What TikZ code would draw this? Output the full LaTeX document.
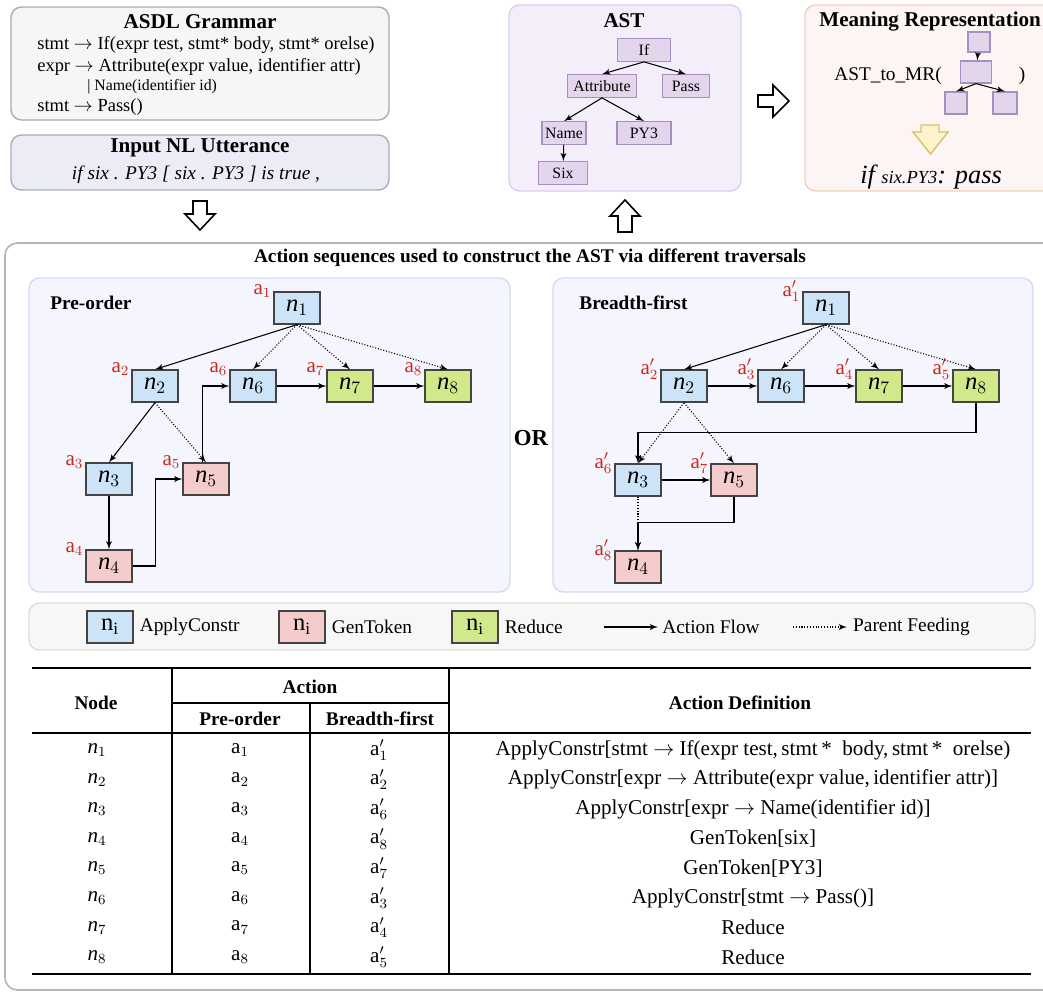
\documentclass[tikz,border=0pt]{standalone}
\usepackage{fontspec}
\setmainfont{Liberation Serif}
\usepackage{tikz}
\usetikzlibrary{arrows}
\usetikzlibrary{positioning}
\definecolor{boxline}{HTML}{A9ACB8}
\definecolor{grammarfill}{HTML}{F6F6F8}
\definecolor{nlfill}{HTML}{ECECF6}
\definecolor{astfill}{HTML}{F4EEFB}
\definecolor{astline}{HTML}{DCCDF2}
\definecolor{astnodefill}{HTML}{E3D5EB}
\definecolor{astnodeline}{HTML}{A78FBF}
\definecolor{mrfill}{HTML}{FCF5F3}
\definecolor{mrline}{HTML}{F3D2BD}
\definecolor{panelfill}{HTML}{F4F5FD}
\definecolor{panelline}{HTML}{D3DCF4}
\definecolor{legfill}{HTML}{F7F7F7}
\definecolor{legline}{HTML}{DDDDDD}
\definecolor{outerline}{HTML}{B5B5B5}
\definecolor{applyblue}{HTML}{CCE3F8}
\definecolor{genred}{HTML}{F5CCCC}
\definecolor{redgreen}{HTML}{D1E88B}
\definecolor{ndline}{HTML}{444444}
\definecolor{ared}{HTML}{C8291C}
\definecolor{yelfill}{HTML}{FDF3CD}
\definecolor{yelline}{HTML}{D9C06A}
\newcommand{\fsz}[1]{\fontsize{#1}{#1}\selectfont}
\newcommand{\rar}{$\rightarrow$}
\tikzstyle{panel} = [draw=panelline, fill=panelfill, line width=0.8pt, rounded corners=6pt]
\tikzstyle{nd} = [rectangle, draw=ndline, line width=0.7pt, minimum width=0.92cm, minimum height=0.64cm, inner sep=0pt, font=\fsz{14}]
\tikzstyle{apply} = [nd, fill=applyblue]
\tikzstyle{gen} = [nd, fill=genred]
\tikzstyle{reduce} = [nd, fill=redgreen]
\tikzstyle{lbl} = [text=ared, anchor=east, inner sep=1pt, font=\fsz{12}]
\tikzstyle{line} = [draw, -latex', line width=0.6pt]
\tikzstyle{feed} = [line, densely dotted]
\tikzstyle{astnode} = [rectangle, draw=astnodeline, fill=astnodefill, line width=0.7pt, minimum height=0.45cm, inner sep=0pt, font=\fsz{9}]
\tikzstyle{title} = [font=\bfseries\fsz{12}]
\tikzstyle{hollow} = [draw, line width=0.9pt, fill=white, line join=miter]
\tikzstyle{legtext} = [font=\fsz{11}]
\tikzstyle{cell} = [font=\fsz{12}]
\tikzstyle{head} = [font=\bfseries\fsz{11}]

\begin{document}
\begin{tikzpicture}[x=0.02cm, y=-0.02cm]
  \useasboundingbox (0,0) rectangle (1043,992);
  \fill[white] (0,0) rectangle (1043,992);
  % Top boxes
  \draw[draw=boxline, fill=grammarfill, line width=0.8pt, rounded corners=6pt] (11,7) rectangle (389,120);
  \node[title] (gtitle) at (200,22) {ASDL Grammar};
  \node[anchor=west, inner sep=0pt, font=\fsz{10.5}] (g1) at (37,45) {stmt \rar\ If(expr test, stmt* body, stmt* orelse)};
  \node[anchor=west, inner sep=0pt, font=\fsz{10.5}] (g2) at (37,67) {expr \rar\ Attribute(expr value, identifier attr)};
  \node[anchor=west, inner sep=0pt, font=\fsz{9}] (g3) at (87,87) {| Name(identifier id)};
  \node[anchor=west, inner sep=0pt, font=\fsz{10.5}] (g4) at (37,107) {stmt \rar\ Pass()};
  \draw[draw=boxline, fill=nlfill, line width=0.8pt, rounded corners=6pt] (11,135) rectangle (389,190);
  \node[title] (nltitle) at (200,148) {Input NL Utterance};
  \node[font=\itshape\fsz{11}] (nl) at (196,175) {if six . PY3 [ six . PY3 ] is true ,};
  % AST box
  \draw[draw=astline, fill=astfill, line width=0.8pt, rounded corners=6pt] (509,5) rectangle (741,191);
  \node[title] (asttitle) at (624,21) {AST};
  \node[astnode, minimum width=1.06cm] (aIf) at (644,50) {If};
  \node[astnode, minimum width=1.38cm] (aAttr) at (602,86) {Attribute};
  \node[astnode, minimum width=0.94cm] (aPass) at (686,86) {Pass};
  \node[astnode, minimum width=0.88cm] (aName) at (564,133) {Name};
  \node[astnode, minimum width=1.08cm] (aPY) at (644,133) {PY3};
  \node[astnode, minimum width=0.98cm] (aSix) at (563,173) {Six};
  \path[line] (aIf.south) -- (aAttr.north);
  \path[line] (aIf.south) -- (aPass.north);
  \path[line] (aAttr.south) -- (aName.north);
  \path[line] (aAttr.south) -- (aPY.north);
  \path[line] (aName) -- (aSix);
  % Meaning representation box
  \draw[draw=mrline, fill=mrfill, line width=0.8pt, rounded corners=6pt] (805,5) rectangle (1070,191);
  \node[title, anchor=west, inner sep=0pt] (mrtitle) at (819,22) {Meaning Representation};
  \node[anchor=west, inner sep=0pt, font=\fsz{11}] (mrcall) at (834,76) {AST\_to\_MR(};
  \node[inner sep=0pt, font=\fsz{11}] (mrclose) at (1022,76) {)};
  \node[astnode, minimum width=0.44cm, minimum height=0.4cm] (mA) at (979,42) {};
  \node[astnode, minimum width=0.62cm, minimum height=0.44cm] (mB) at (976,72) {};
  \node[astnode, minimum width=0.44cm, minimum height=0.44cm] (mC) at (956,103) {};
  \node[astnode, minimum width=0.48cm, minimum height=0.44cm] (mD) at (1005,103) {};
  \path[line] (mA) -- (mB);
  \path[line] (mB.south) -- (mC.north);
  \path[line] (mB.south) -- (mD.north);
  \draw[draw=yelline, fill=yelfill, line width=0.8pt] (921,125) -- (939,125) -- (939,132) -- (948,132) -- (930.5,154) -- (913,132) -- (921,132) -- cycle;
  \node[font=\itshape] (mrout) at (931,177) {\fsz{15}if \fsz{10.5}six.PY3\fsz{15}: pass};
  % Hollow arrows
  \draw[hollow] (193,201) -- (207,201) -- (207,214) -- (215,214) -- (200,230) -- (185,214) -- (193,214) -- cycle;
  \draw[hollow] (625,200) -- (640,216) -- (632,216) -- (632,232) -- (618,232) -- (618,216) -- (610,216) -- cycle;
  \draw[hollow] (758,95) -- (773,95) -- (773,85) -- (789,101) -- (773,117) -- (773,107) -- (758,107) -- cycle;
  % Outer box and panels
  \draw[draw=outerline, fill=white, line width=0.9pt, rounded corners=7pt] (5,243) rectangle (1080,990);
  \node[font=\bfseries\fsz{11}] (maintitle) at (530,258) {Action sequences used to construct the AST via different traversals};
  \draw[panel] (29,278) rectangle (510,592);
  \draw[panel] (553,278) rectangle (1033,592);
  \node[font=\bfseries\fsz{11}, anchor=west, inner sep=0pt] (pretitle) at (50,303) {Pre-order};
  \node[font=\bfseries\fsz{11}, anchor=west, inner sep=0pt] (bfstitle) at (579,303) {Breadth-first};
  \node[font=\bfseries\fsz{13}] (or) at (531,438) {OR};
  % Place nodes (pre-order)
  \node[apply, label={[lbl]north west:$\mathrm{a}_1$}] (p1) at (297,308) {$\mathit{n}_1$};
  \node[apply, label={[lbl]north west:$\mathrm{a}_2$}] (p2) at (155,386) {$\mathit{n}_2$};
  \node[apply, label={[lbl]north west:$\mathrm{a}_6$}] (p6) at (253,386) {$\mathit{n}_6$};
  \node[reduce, label={[lbl]north west:$\mathrm{a}_7$}] (p7) at (350,386) {$\mathit{n}_7$};
  \node[reduce, label={[lbl]north west:$\mathrm{a}_8$}] (p8) at (448,386) {$\mathit{n}_8$};
  \node[apply, label={[lbl]north west:$\mathrm{a}_3$}] (p3) at (109,479) {$\mathit{n}_3$};
  \node[gen, label={[lbl]north west:$\mathrm{a}_5$}] (p5) at (206,479) {$\mathit{n}_5$};
  \node[gen, label={[lbl]north west:$\mathrm{a}_4$}] (p4) at (109,566) {$\mathit{n}_4$};
  % Draw edges (pre-order)
  \path[line] (p1.south) -- (p2.north);
  \path[feed] (p1.south) -- (p6.north);
  \path[feed] (p1.south) -- (p7.north);
  \path[feed] (p1.south) -- (p8.north);
  \path[line] (p2.south) -- (p3.north);
  \path[feed] (p2.south) -- (p5.north);
  \path[line] (p3) -- (p4);
  \path[line] (p4.east) -- ++(23,0) |- (p5.west);
  \path[line] ([xshift=-2pt]p5.north) |- (p6.west);
  \path[line] (p6) -- (p7);
  \path[line] (p7) -- (p8);
  % Place nodes (breadth-first)
  \node[apply, label={[lbl]north west:$\mathrm{a}'_1$}] (b1) at (826,308) {$\mathit{n}_1$};
  \node[apply, label={[lbl]north west:$\mathrm{a}'_2$}] (b2) at (684,386) {$\mathit{n}_2$};
  \node[apply, label={[lbl]north west:$\mathrm{a}'_3$}] (b6) at (781,386) {$\mathit{n}_6$};
  \node[reduce, label={[lbl]north west:$\mathrm{a}'_4$}] (b7) at (879,386) {$\mathit{n}_7$};
  \node[reduce, label={[lbl]north west:$\mathrm{a}'_5$}] (b8) at (976,386) {$\mathit{n}_8$};
  \node[apply, label={[lbl]north west:$\mathrm{a}'_6$}] (b3) at (638,480) {$\mathit{n}_3$};
  \node[gen, label={[lbl]north west:$\mathrm{a}'_7$}] (b5) at (734,480) {$\mathit{n}_5$};
  \node[gen, label={[lbl]north west:$\mathrm{a}'_8$}] (b4) at (638,567) {$\mathit{n}_4$};
  % Draw edges (breadth-first)
  \path[line] (b1.south) -- (b2.north);
  \path[feed] (b1.south) -- (b6.north);
  \path[feed] (b1.south) -- (b7.north);
  \path[feed] (b1.south) -- (b8.north);
  \path[line] (b2) -- (b6);
  \path[line] (b6) -- (b7);
  \path[line] (b7) -- (b8);
  \path[line] (b8.south) -- ++(0,30) -| (b3.north);
  \path[feed] (b2.south) -- (b3.north);
  \path[feed] (b2.south) -- (b5.north);
  \path[line] (b3) -- (b5);
  \path[feed] (b3) -- (b4);
  \path[line] (b5.south) -- ++(0,26) -| (b4.north);
  % Legend
  \draw[draw=legline, fill=legfill, line width=0.8pt, rounded corners=6pt] (29,603) rectangle (1035,650);
  \node[apply, font=\fsz{14}] (lgA) at (110,627) {$\mathrm{n}_\mathrm{i}$};
  \node[legtext, right=0pt of lgA] (lgAt) {ApplyConstr};
  \node[gen, font=\fsz{14}] (lgG) at (302,627) {$\mathrm{n}_\mathrm{i}$};
  \node[legtext, right=0pt of lgG] (lgGt) {GenToken};
  \node[reduce, font=\fsz{14}] (lgR) at (475,627) {$\mathrm{n}_\mathrm{i}$};
  \node[legtext, right=0pt of lgR] (lgRt) {Reduce};
  \coordinate (lf1) at (604,627);
  \coordinate (lf2) at (658,627);
  \path[line] (lf1) -- (lf2);
  \node[legtext, right=-1pt of lf2] (lgFt) {Action Flow};
  \coordinate (lp1) at (793,627);
  \coordinate (lp2) at (847,627);
  \path[feed] (lp1) -- (lp2);
  \node[legtext, right=0pt of lp2] (lgPt) {Parent Feeding};
  % Table
  \draw[line width=1.2pt] (32,668) -- (1031,668);
  \draw[line width=1.2pt] (32,733) -- (1031,733);
  \draw[line width=1.2pt] (32,974) -- (1031,974);
  \draw[line width=0.7pt] (172,668) -- (172,974);
  \draw[line width=0.7pt] (449,668) -- (449,974);
  \draw[line width=0.7pt] (310,703) -- (310,974);
  \draw[line width=0.7pt] (172,703) -- (449,703);
  \node[head] (hNode) at (96,703) {Node};
  \node[head] (hAct) at (310,687) {Action};
  \node[head] (hPre) at (240,719) {Pre-order};
  \node[head] (hBfs) at (380,719) {Breadth-first};
  \node[head] (hDef) at (740,703) {Action Definition};
  \foreach \nid/\bfs/\adef [count=\k] in {
    1/1/{ApplyConstr[stmt \rar\ If(expr test,\,stmt\,*\ \ body,\,stmt\,*\ \ orelse)},
    2/2/{ApplyConstr[expr \rar\ Attribute(expr value,\,identifier attr)]},
    3/6/{ApplyConstr[expr \rar\ Name(identifier id)]},
    4/8/{GenToken[six]},
    5/7/{GenToken[PY3]},
    6/3/{ApplyConstr[stmt \rar\ Pass()]},
    7/4/{Reduce},
    8/5/{Reduce}}
  {
    \pgfmathsetmacro{\ry}{750+29.6*(\k-1)}
    \node[cell] (tn\k) at (97,\ry) {$\mathit{n}_{\nid}$};
    \node[cell] (tp\k) at (240,\ry) {$\mathrm{a}_{\nid}$};
    \node[cell] (tb\k) at (379,\ry) {$\mathrm{a}'_{\bfs}$};
    \node[cell] (td\k) at (753,\ry) {\adef};
  }
\end{tikzpicture}
\end{document}
